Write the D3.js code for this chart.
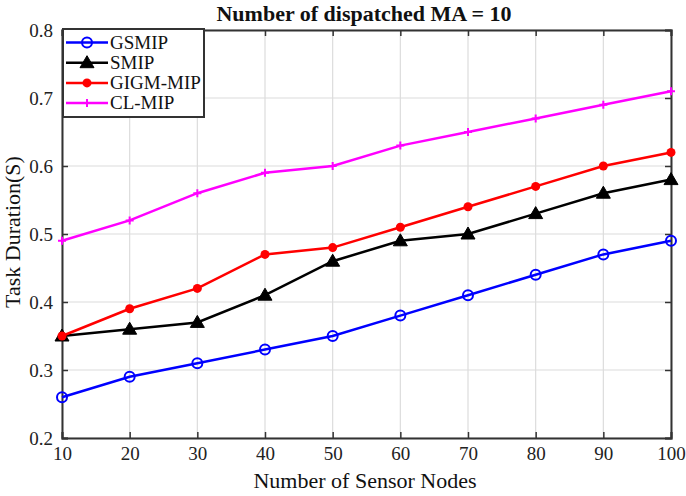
<!DOCTYPE html>
<html>
<head>
<meta charset="utf-8">
<script src="https://cdn.jsdelivr.net/npm/d3@7"></script>
<style>
  body { margin: 0; background: #fff; }
  text { font-family: "Liberation Serif", "Times New Roman", serif; }
</style>
</head>
<body>
<svg id="chart" width="686" height="496"></svg>
<script>
// values
var nodes = [10, 20, 30, 40, 50, 60, 70, 80, 90, 100];
var gsmip = [0.26, 0.29, 0.31, 0.33, 0.35, 0.38, 0.41, 0.44, 0.47, 0.49];
var smip = [0.35, 0.36, 0.37, 0.41, 0.46, 0.49, 0.50, 0.53, 0.56, 0.58];
var gigm = [0.35, 0.39, 0.42, 0.47, 0.48, 0.51, 0.54, 0.57, 0.60, 0.62];
var clmip = [0.49, 0.52, 0.56, 0.59, 0.60, 0.63, 0.65, 0.67, 0.69, 0.71];
var yTicks = [0.2, 0.3, 0.4, 0.5, 0.6, 0.7, 0.8];

var series = [
  { name: "GSMIP", values: gsmip, color: "#0000ff", marker: "circle" },
  { name: "SMIP", values: smip, color: "#000000", marker: "triangle" },
  { name: "GIGM-MIP", values: gigm, color: "#ff0000", marker: "dot" },
  { name: "CL-MIP", values: clmip, color: "#ff00ff", marker: "plus" }
];

var svg = d3.select("#chart");
var pL = 62, pR = 671, pT = 30, pB = 438;

var x = d3.scaleLinear().domain([10, 100]).range([pL, pR]);
var y = d3.scaleLinear().domain([0.2, 0.8]).range([pB, pT]);

// grid
svg.append("g").selectAll("line").data(nodes).enter().append("line")
  .attr("x1", d => x(d)).attr("x2", d => x(d))
  .attr("y1", pT).attr("y2", pB)
  .attr("stroke", "#dcdcdc").attr("stroke-width", 1.2);
svg.append("g").selectAll("line").data(yTicks).enter().append("line")
  .attr("y1", d => y(d)).attr("y2", d => y(d))
  .attr("x1", pL).attr("x2", pR)
  .attr("stroke", "#dcdcdc").attr("stroke-width", 1.2);

// axes (inward ticks, box)
var xAxis = svg.append("g").attr("transform", "translate(0," + pB + ")")
  .call(d3.axisBottom(x).tickValues(nodes).tickSize(-6).tickPadding(9).tickFormat(d3.format("d")));
var xTop = svg.append("g").attr("transform", "translate(0," + pT + ")")
  .call(d3.axisTop(x).tickValues(nodes).tickSize(-6).tickFormat(""));
var yAxis = svg.append("g").attr("transform", "translate(" + pL + ",0)")
  .call(d3.axisLeft(y).tickValues(yTicks).tickSize(-6).tickPadding(9).tickFormat(d3.format(".1f")));
var yRight = svg.append("g").attr("transform", "translate(" + pR + ",0)")
  .call(d3.axisRight(y).tickValues(yTicks).tickSize(-6).tickFormat(""));

[xAxis, xTop, yAxis, yRight].forEach(function (g) {
  g.select(".domain").attr("stroke", "#333").attr("stroke-width", 2);
  g.selectAll(".tick line").attr("stroke", "#333").attr("stroke-width", 1.5);
  g.selectAll("text").attr("font-size", 19).attr("fill", "#222")
    .style("font-family", "'Liberation Serif', serif");
});

// lines
var line = d3.line().x((d, i) => x(nodes[i])).y(d => y(d));

function drawMarker(g, type, color, cx, cy) {
  if (type === "circle") {
    g.append("circle").attr("cx", cx).attr("cy", cy).attr("r", 5)
      .attr("fill", "none").attr("stroke", color).attr("stroke-width", 2);
  } else if (type === "triangle") {
    g.append("path").attr("transform", "translate(" + cx + "," + cy + ")")
      .attr("d", "M0,-7L7,5L-7,5Z").attr("fill", color).attr("stroke", color).attr("stroke-width", 1);
  } else if (type === "dot") {
    g.append("circle").attr("cx", cx).attr("cy", cy).attr("r", 4.5).attr("fill", color);
  } else {
    g.append("path").attr("transform", "translate(" + cx + "," + cy + ")")
      .attr("d", "M-4,0H4M0,-4V4").attr("stroke", color).attr("stroke-width", 2);
  }
}

series.forEach(function (s) {
  var g = svg.append("g");
  g.append("path").datum(s.values).attr("d", line)
    .attr("fill", "none").attr("stroke", s.color).attr("stroke-width", 2.5);
  s.values.forEach(function (v, i) { drawMarker(g, s.marker, s.color, x(nodes[i]), y(v)); });
});

// legend
var leg = svg.append("g");
leg.append("rect").attr("x", 63).attr("y", 29).attr("width", 141).attr("height", 88)
  .attr("fill", "#fff").attr("stroke", "#333").attr("stroke-width", 2);
series.forEach(function (s, i) {
  var ly = 42.5 + i * 20.2;
  leg.append("line").attr("x1", 66).attr("x2", 108).attr("y1", ly).attr("y2", ly)
    .attr("stroke", s.color).attr("stroke-width", 2.5);
  drawMarker(leg, s.marker, s.color, 87, ly);
  leg.append("text").attr("x", 110).attr("y", ly + 6).attr("font-size", 19)
    .attr("fill", "#111").text(s.name);
});

// titles
svg.append("text").attr("x", 364).attr("y", 21).attr("text-anchor", "middle")
  .attr("font-size", 22).attr("font-weight", "bold").attr("fill", "#111")
  .text("Number of dispatched MA = 10");
svg.append("text").attr("x", 365).attr("y", 488).attr("text-anchor", "middle")
  .attr("font-size", 22).attr("fill", "#111").text("Number of Sensor Nodes");
svg.append("text").attr("transform", "translate(20,232) rotate(-90)")
  .attr("text-anchor", "middle").attr("font-size", 22).attr("fill", "#111")
  .text("Task Duration(S)");
</script>
</body>
</html>
